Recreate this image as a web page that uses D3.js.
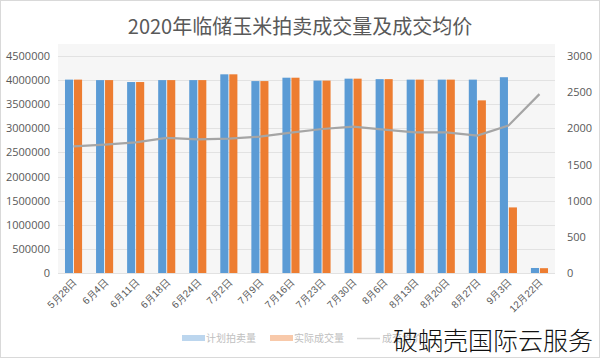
<!DOCTYPE html>
<html><head><meta charset="utf-8">
<script src="https://cdn.jsdelivr.net/npm/d3@7/dist/d3.min.js"></script>
<style>body{margin:0;background:#fff;}svg{display:block;font-family:"Noto Sans CJK SC","Noto Sans",sans-serif;}</style>
</head><body><svg id="c" width="600" height="358"></svg>
<script>
const categories = ["5月28日","6月4日","6月11日","6月18日","6月24日","7月2日","7月9日","7月16日","7月23日","7月30日","8月6日","8月13日","8月20日","8月27日","9月3日","12月22日"];
const planned = [4010000,4000000,3960000,4000000,4000000,4120000,3980000,4050000,3990000,4030000,4020000,4010000,4010000,4010000,4060000,104000];
const actual  = [4010000,4000000,3960000,4000000,4000000,4120000,3980000,4050000,3990000,4030000,4020000,4010000,4010000,3580000,1360000,100000];
const price   = [1750,1775,1807,1867,1848,1858,1885,1940,1991,2023,1982,1945,1945,1899,2037,2473];
const leftTicks = [0,500000,1000000,1500000,2000000,2500000,3000000,3500000,4000000,4500000];
const rightTicks = [0,500,1000,1500,2000,2500,3000];
const seriesNames = ["计划拍卖量","实际成交量","成交均价"];

const svg = d3.select("#c");
const L = 58, R = 555, T = 56, B = 273;
const x = d3.scaleBand().domain(categories).range([L, R]).paddingInner(0.45).paddingOuter(0.225);
const xs = d3.scaleBand().domain([0,1]).range([0, x.bandwidth()]).paddingInner(0.1);
const yL = d3.scaleLinear().domain([0,4500000]).range([B, T]);
const yR = d3.scaleLinear().domain([0,3000]).range([B, T]);

svg.append("rect").attr("x",0.5).attr("y",0.5).attr("width",599).attr("height",357).attr("fill","#fff").attr("stroke","#d9d9d9");
svg.append("rect").attr("x",L).attr("y",T-12).attr("width",R-L).attr("height",B-T+12).attr("fill","#f6f6f6");

svg.append("text").attr("x",300).attr("y",34).attr("text-anchor","middle").attr("font-size",20).attr("fill","#595959").text("2020年临储玉米拍卖成交量及成交均价");

// grid
svg.append("g").selectAll("line").data(leftTicks).join("line")
  .attr("x1",L).attr("x2",R).attr("y1",d=>Math.round(yL(d))+0.5).attr("y2",d=>Math.round(yL(d))+0.5)
  .attr("stroke","#e2e2e2");

// axes
const axL = svg.append("g").attr("transform",`translate(${L-6},0)`)
  .call(d3.axisLeft(yL).tickValues(leftTicks).tickFormat(d3.format("d")).tickSize(0).tickPadding(2));
axL.select(".domain").remove();
axL.selectAll("text").attr("font-size",11).attr("fill","#595959").attr("font-family","'Open Sans','Noto Sans',sans-serif");

const axR = svg.append("g").attr("transform",`translate(${R+12},0)`)
  .call(d3.axisRight(yR).tickValues(rightTicks).tickFormat(d3.format("d")).tickSize(0).tickPadding(0));
axR.select(".domain").remove();
axR.selectAll("text").attr("font-size",11).attr("fill","#595959").attr("font-family","'Open Sans','Noto Sans',sans-serif");

const axB = svg.append("g").attr("transform",`translate(0,${B})`)
  .call(d3.axisBottom(x).tickSize(0).tickPadding(0));
axB.select(".domain").remove();
axB.selectAll("text").attr("font-size",10).attr("fill","#595959")
  .attr("text-anchor","end").attr("dy","0").attr("transform","translate(4,10) rotate(-45)");

// bars
const g = svg.append("g");
g.selectAll(".p").data(categories).join("rect")
  .attr("x",(d)=>x(d)+xs(0)).attr("width",xs.bandwidth())
  .attr("y",(d,i)=>yL(planned[i])).attr("height",(d,i)=>B-yL(planned[i])).attr("fill","#5b9bd5");
g.selectAll(".a").data(categories).join("rect")
  .attr("x",(d)=>x(d)+xs(1)).attr("width",xs.bandwidth())
  .attr("y",(d,i)=>yL(actual[i])).attr("height",(d,i)=>B-yL(actual[i])).attr("fill","#ed7d31");

// line
const line = d3.line().x((d,i)=>x(categories[i])+x.bandwidth()/2).y(d=>yR(d));
svg.append("path").datum(price).attr("d",line).attr("fill","none").attr("stroke","#a5a5a5").attr("stroke-width",2.2);

// legend
const lg = svg.append("g").attr("font-size",10).attr("fill","#c8c8c8");
lg.append("rect").attr("x",182).attr("y",335).attr("width",23).attr("height",6).attr("fill","#bcd6ee");
lg.append("text").attr("x",206).attr("y",342).attr("fill","#c0c0c0").text(seriesNames[0]);
lg.append("rect").attr("x",270).attr("y",335).attr("width",23).attr("height",6).attr("fill","#f8c9aa");
lg.append("text").attr("x",294).attr("y",342).attr("fill","#c0c0c0").text(seriesNames[1]);
lg.append("line").attr("x1",357).attr("x2",380).attr("y1",338.5).attr("y2",338.5).attr("stroke","#d5d5d5").attr("stroke-width",1.5);
lg.append("text").attr("x",382).attr("y",342).attr("fill","#c0c0c0").text(seriesNames[2]);

// watermark
svg.append("text").attr("x",393).attr("y",350).attr("font-size",25).attr("fill","#111").attr("font-family","'Noto Sans CJK SC',sans-serif").attr("font-weight",300).text("破蜗壳国际云服务");
</script></body></html>
